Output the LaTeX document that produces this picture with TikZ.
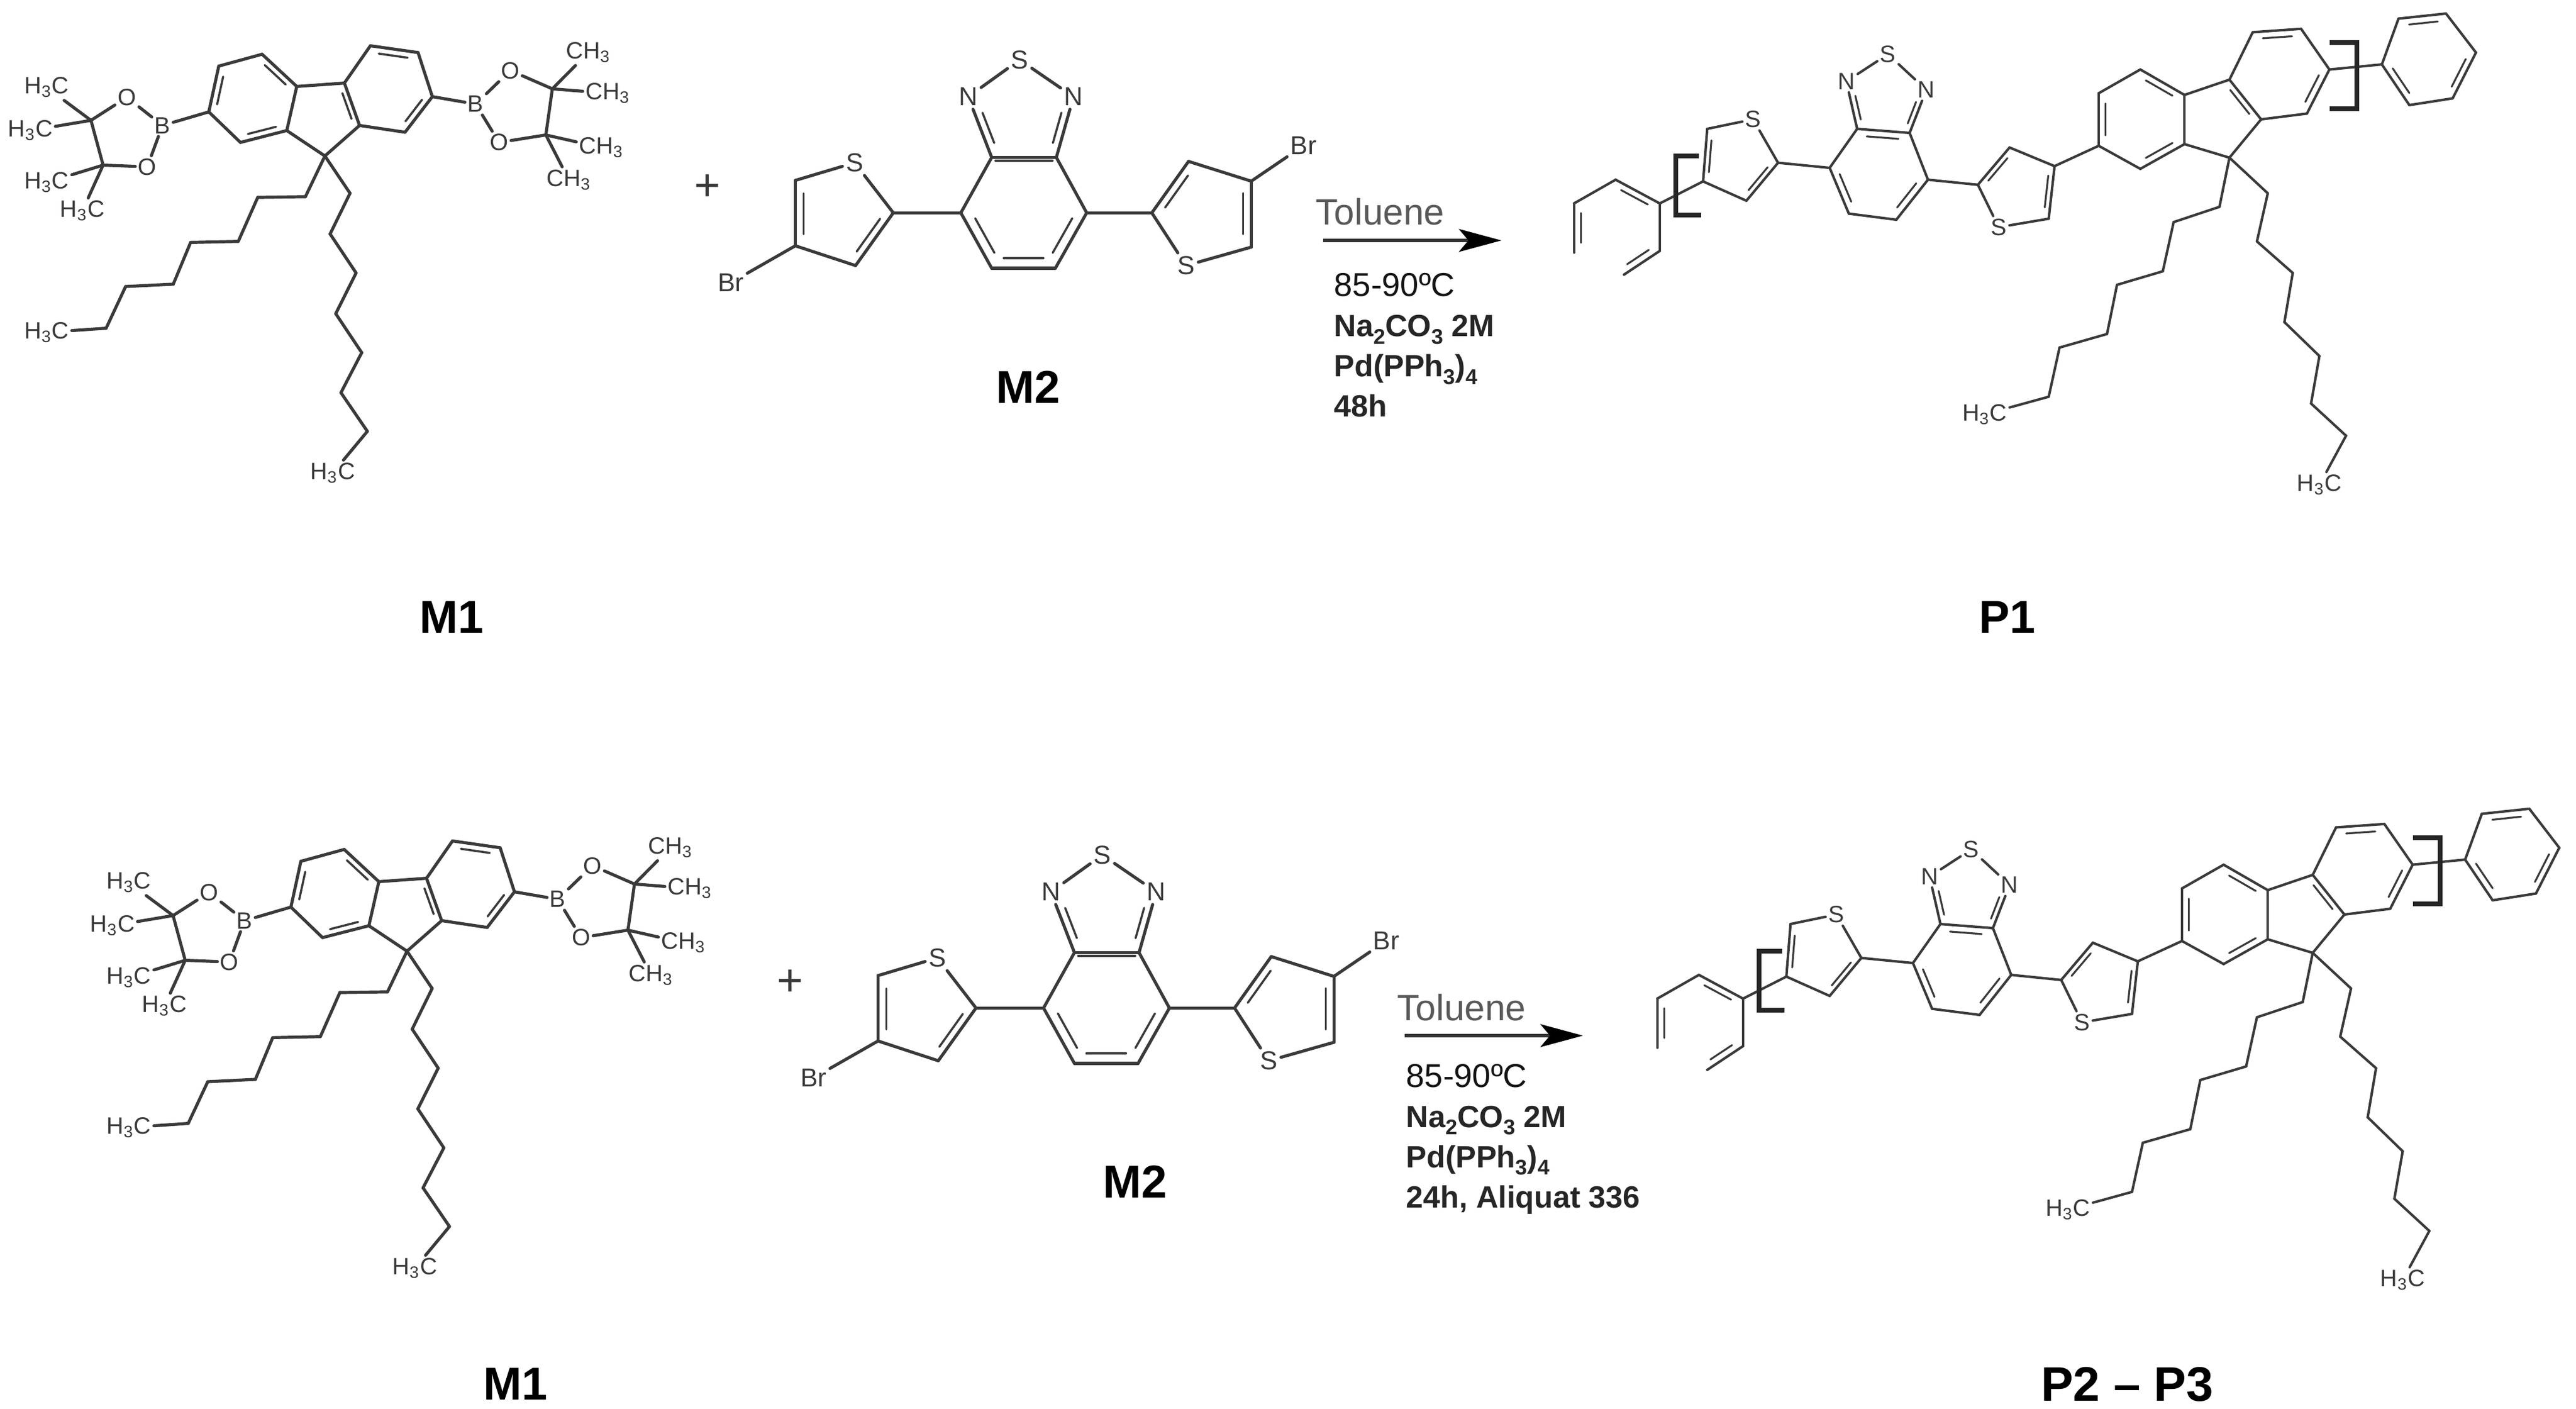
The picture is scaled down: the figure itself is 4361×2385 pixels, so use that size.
\documentclass[tikz,border=0pt]{standalone}
\usepackage{fontspec}
\setmainfont{Liberation Sans}
\usetikzlibrary{calc,arrows.meta}
\definecolor{ink}{HTML}{3A3A3A}
\tikzset{
 bond/.style={draw=ink,line width=1.3pt,line cap=round,line join=round},
 pbond/.style={draw=ink,line width=1.05pt,line cap=round,line join=round},
 atomA/.style={inner sep=1pt,text=ink,font=\fontsize{10}{10}\selectfont},
 atomB/.style={inner sep=1.3pt,text=ink,font=\fontsize{11}{11}\selectfont},
 atomC/.style={inner sep=1pt,text=ink,font=\fontsize{10}{10}\selectfont},
 bracket/.style={draw=black!85,line width=2pt,line cap=butt,line join=miter},
 condfirst/.style={inner sep=0pt,anchor=base west,text=black!92,font=\fontsize{14}{14}\selectfont},
 cond/.style={inner sep=0pt,anchor=base west,text=black!85,font=\bfseries\fontsize{13}{14}\selectfont},
 tol/.style={inner sep=0pt,anchor=base west,text=black!65,font=\fontsize{15.5}{16}\selectfont},
 plusm/.style={inner sep=0pt,text=ink,font=\fontsize{19}{19}\selectfont},
 lab/.style={inner sep=0pt,text=black,font=\bfseries\fontsize{19.5}{20}\selectfont},
 rarrow/.style={draw=black!80,line width=1.7pt,-{Stealth[length=18pt,width=9.6pt,inset=4pt,color=black]}},
}
\newcommand{\sbs}[1]{\raisebox{-.24em}{\fontsize{9}{9}\selectfont #1}}
\newcommand{\HC}{H\textsubscript{3}C}
\newcommand{\CH}{CH\textsubscript{3}}
% #1 prefix, #2 x-offset (px), #3 y-offset (px)
\newcommand{\MolOne}[3]{%
\begin{scope}[xshift={(#2)*0.25pt},yshift={-(#3)*0.25pt},x=0.18335pt,y=-0.1435pt]
 \foreach \n/\x/\y in {a1/482/330,a2/505/195,a3/605/160,a4/685/255,a5/662/385,a6/555/420,
   c9/750/460,b1/795/245,b2/855/135,b3/965/155,b4/998/285,b5/935/390,b6/830/370,
   lc/585/290,rc/895/265,mc/740/340,
   cl1/210/355,cl2/238/487,cr1/1275/262,cr2/1260/398,
   u1/705/580,u2/595/582,u3/550/712,u4/440/715,u5/400/838,u6/290/845,u7/245/968,
   v1/808/570,v2/762/690,v3/822/805,v4/775/925,v5/835/1040,v6/787/1158,v7/848/1272}
   {\coordinate (#1\n) at (\x,\y);}
 \node[atomA] (#1Bl) at (375,370) {B};
 \node[atomA] (#1Ol1) at (293,287) {O};
 \node[atomA] (#1Ol2) at (340,492) {O};
 \node[atomA] (#1Br) at (1098,307) {B};
 \node[atomA] (#1Or1) at (1178,208) {O};
 \node[atomA] (#1Or2) at (1152,420) {O};
 \node[atomA] (#1m1) at (108,258) {\HC};
 \node[atomA] (#1m2) at (70,385) {\HC};
 \node[atomA] (#1m3) at (108,538) {\HC};
 \node[atomA] (#1m4) at (190,622) {\HC};
 \node[atomA] (#1m5) at (1358,155) {\CH};
 \node[atomA] (#1m6) at (1403,275) {\CH};
 \node[atomA] (#1m7) at (1388,435) {\CH};
 \node[atomA] (#1m8) at (1313,530) {\CH};
 \node[atomA] (#1t1) at (108,980) {\HC};
 \node[atomA] (#1t2) at (768,1395) {\HC};
 \foreach \a/\b in {a1/a2,a2/a3,a3/a4,a4/a5,a5/a6,a6/a1,a4/b1,a5/c9,b6/c9,b1/b2,b2/b3,b3/b4,b4/b5,b5/b6,b6/b1,
   a1/Bl,Bl/Ol1,Ol1/cl1,cl1/cl2,cl2/Ol2,Ol2/Bl,cl1/m1,cl1/m2,cl2/m3,cl2/m4,
   b4/Br,Br/Or1,Or1/cr1,cr1/cr2,cr2/Or2,Or2/Br,cr1/m5,cr1/m6,cr2/m7,cr2/m8,
   c9/u1,u1/u2,u2/u3,u3/u4,u4/u5,u5/u6,u6/u7,u7/t1,
   c9/v1,v1/v2,v2/v3,v3/v4,v4/v5,v5/v6,v6/v7,v7/t2}
   {\draw[bond] (#1\a) -- (#1\b);}
 \foreach \a/\b/\c in {a1/a2/lc,a3/a4/lc,a5/a6/lc,b2/b3/rc,b4/b5/rc,b6/b1/mc}
   {\draw[bond,line width=.9pt] ($(#1\a)!.14!(#1\b)!.16!(#1\c)$) -- ($(#1\b)!.14!(#1\a)!.16!(#1\c)$);}
\end{scope}}
\newcommand{\MolTwo}[3]{%
\begin{scope}[xshift={(1150+#2)*0.25pt},yshift={-(50+#3)*0.25pt},x=0.20725pt,y=-0.1116pt]
 \foreach \n/\x/\y in {k1/638/485,k2/770/485,k3/832/695,k4/768/905,k5/638/905,k6/575/695,kc/703/695,tc/703/330,
   l2/437/695,l5/237/572,l4/237/820,l3/360/895,lc/330/710,
   r2/965/695,r5/1168/825,r4/1168/575,r3/1040/500,rc/1075/690}
   {\coordinate (#1\n) at (\x,\y);}
 \node[atomB] (#1Nl) at (590,255) {N};
 \node[atomB] (#1Nr) at (805,255) {N};
 \node[atomB] (#1St) at (695,115) {S};
 \node[atomB] (#1Sl) at (358,505) {S};
 \node[atomB] (#1Sr) at (1035,895) {S};
 \node[atomB] (#1Bl) at (105,960) {Br};
 \node[atomB] (#1Br) at (1275,440) {Br};
 \node[plusm] (#1pl) at (58,600) {+};
 \foreach \a/\b in {k1/k2,k2/k3,k3/k4,k4/k5,k5/k6,k6/k1,k1/Nl,k2/Nr,Nl/St,St/Nr,
   k6/l2,l2/Sl,Sl/l5,l5/l4,l4/l3,l3/l2,l4/Bl,
   k3/r2,r2/Sr,Sr/r5,r5/r4,r4/r3,r3/r2,r4/Br}
   {\draw[bond] (#1\a) -- (#1\b);}
 \foreach \a/\b/\c in {k6/k5/kc,k3/k4/kc,k5/k4/kc,l5/l4/lc,l3/l2/lc,r2/r3/rc,r4/r5/rc}
   {\draw[bond,line width=.9pt] ($(#1\a)!.12!(#1\b)!.18!(#1\c)$) -- ($(#1\b)!.12!(#1\a)!.18!(#1\c)$);}
 \draw[bond,line width=.9pt] ($(#1k1)!.03!(#1k2)!.06!(#1kc)$) -- ($(#1k2)!.03!(#1k1)!.06!(#1kc)$);
 \draw[bond,line width=.9pt] ($(#1k1)!.15!(#1Nl)!.17!(#1tc)$) -- ($(#1k1)!.75!(#1Nl)!.17!(#1tc)$);
 \draw[bond,line width=.9pt] ($(#1k2)!.15!(#1Nr)!.17!(#1tc)$) -- ($(#1k2)!.75!(#1Nr)!.17!(#1tc)$);
\end{scope}}
\newcommand{\MolProd}[3]{%
\begin{scope}[xshift={(2150+#2)*0.25pt},yshift={-(#3)*0.25pt},x=0.3525pt,y=-0.1435pt]
 \foreach \n/\x/\y in {h1/365/600,h2/415/530,h3/468/600,h4/468/740,h5/425/810,h6/365/745,hc/417/670,
   T4/520/535,T5/525/380,T2/610/480,T3/572/592,Tc/560/480,
   B1/672/495,B2/705/380,B3/768/392,B4/790/530,B5/752/648,B6/695/630,Bc/730/510,Nc/740/320,
   C2/850/545,C5/935/645,C4/942/490,C3/888/435,Cc/900/550,
   f1/995/430,f2/995/275,f3/1045/205,f4/1098/280,f5/1098/425,f6/1045/498,fc/1047/350,
   g1/1152/235,g2/1180/95,g3/1238/85,g4/1272/205,g5/1245/335,g6/1190/352,gc/1213/215,
   c9/1152/465,mc/1130/340,
   p1/1335/190,p2/1355/55,p3/1412/40,p4/1448/155,p5/1420/290,p6/1368/310,pc/1392/175,
   u1/1140/610,u2/1085/655,u3/1072/800,u4/1017/840,u5/1005/985,u6/948/1025,u7/935/1170,
   v1/1198/570,v2/1185/712,v3/1228/805,v4/1218/950,v5/1260/1050,v6/1250/1190,v7/1292/1285,
   ql1/515/460,ql2/487/460,ql3/487/635,ql4/518/635,
   qr1/1272/125,qr2/1305/125,qr3/1305/320,qr4/1272/320}
   {\coordinate (#1\n) at (\x,\y);}
 \node[atomC] (#1Nl) at (692,240) {N};
 \node[atomC] (#1Nr) at (788,265) {N};
 \node[atomC] (#1St) at (742,160) {S};
 \node[atomC] (#1Sl) at (580,352) {S};
 \node[atomC] (#1Sr) at (875,670) {S};
 \node[atomC] (#1t1) at (858,1222) {\HC};
 \node[atomC] (#1t2) at (1260,1430) {\HC};
 \foreach \a/\b in {h1/h2,h2/h3,h3/h4,h4/h5,h1/h6,h3/T4,T4/T5,T5/Sl,Sl/T2,T2/T3,T3/T4,T2/B1,
   B1/B2,B2/B3,B3/B4,B4/B5,B5/B6,B6/B1,B2/Nl,B3/Nr,Nl/St,St/Nr,B4/C2,C2/C3,C3/C4,C4/C5,C5/Sr,Sr/C2,
   C4/f1,f1/f2,f2/f3,f3/f4,f4/f5,f5/f6,f6/f1,f4/g1,g1/g2,g2/g3,g3/g4,g4/g5,g5/g6,g6/g1,f5/c9,g6/c9,
   g4/p1,p1/p2,p2/p3,p3/p4,p4/p5,p5/p6,p6/p1,
   c9/u1,u1/u2,u2/u3,u3/u4,u4/u5,u5/u6,u6/u7,u7/t1,
   c9/v1,v1/v2,v2/v3,v3/v4,v4/v5,v5/v6,v6/v7,v7/t2}
   {\draw[pbond] (#1\a) -- (#1\b);}
 \foreach \a/\b/\c in {h2/h3/hc,h1/h6/hc,h4/h5/hc,T4/T5/Tc,T2/T3/Tc,B1/B6/Bc,B4/B5/Bc,B2/B3/Bc,C2/C3/Cc,C4/C5/Cc,
   f1/f2/fc,f3/f4/fc,f5/f6/fc,g2/g3/gc,g4/g5/gc,g6/g1/mc,p2/p3/pc,p4/p5/pc,p6/p1/pc}
   {\draw[pbond,line width=.8pt] ($(#1\a)!.14!(#1\b)!.16!(#1\c)$) -- ($(#1\b)!.14!(#1\a)!.16!(#1\c)$);}
 \draw[pbond,line width=.8pt] ($(#1B2)!.15!(#1Nl)!.17!(#1Nc)$) -- ($(#1B2)!.75!(#1Nl)!.17!(#1Nc)$);
 \draw[pbond,line width=.8pt] ($(#1B3)!.15!(#1Nr)!.17!(#1Nc)$) -- ($(#1B3)!.75!(#1Nr)!.17!(#1Nc)$);
 \draw[bracket] (#1ql1) -- (#1ql2) -- (#1ql3) -- (#1ql4);
 \draw[bracket] (#1qr1) -- (#1qr2) -- (#1qr3) -- (#1qr4);
\end{scope}}
% #1 prefix, #2/#3 offset of Toluene and arrow, #4 x-position and #5 first baseline of the conditions, #6 last line
\newcommand{\Cond}[6]{%
\begin{scope}[xshift={(#2)*0.25pt},yshift={-(#3)*0.25pt},x=0.25pt,y=-0.25pt]
 \node[tol] (#1tol) at (2227,381) {Toluene};
 \coordinate (#1as) at (2240,407);
 \coordinate (#1ae) at (2542,407);
 \draw[rarrow] (#1as) -- (#1ae);
\end{scope}
 \node[condfirst] (#1c1) at (#4,#5) {85-90ºC};
 \node[cond] (#1c2) at (#4,#5+68) {Na\sbs{2}CO\sbs{3} 2M};
 \node[cond] (#1c3) at (#4,#5+136) {Pd(PPh\sbs{3})\sbs{4}};
 \node[cond] (#1c4) at (#4,#5+204) {#6};
}
\begin{document}
\begin{tikzpicture}[x=0.25pt,y=-0.25pt]
 \fill[white] (0,0) rectangle (4361,2385);
 \useasboundingbox (0,0) rectangle (4361,2385);
 \MolOne{ma}{0}{0}
 \MolTwo{sa}{0}{0}
 \MolProd{pa}{0}{0}
 \Cond{ca}{0}{0}{2258}{502}{48h}
 \MolOne{mb}{139}{1346}
 \MolTwo{sb}{140}{1346}
 \MolProd{pb}{141}{1346}
 \Cond{cb}{138}{1346}{2380}{1840}{24h, Aliquat 336}
 \node[lab] (l1) at (765,1045) {M1};
 \node[lab] (l2) at (1741,655) {M2};
 \node[lab] (l3) at (3398,1045) {P1};
 \node[lab] (l4) at (873,2343) {M1};
 \node[lab] (l5) at (1922,2000) {M2};
 \node[lab,font=\bfseries\fontsize{20.5}{21}\selectfont] (l6) at (3601,2343) {P2 -- P3};
\end{tikzpicture}
\end{document}
